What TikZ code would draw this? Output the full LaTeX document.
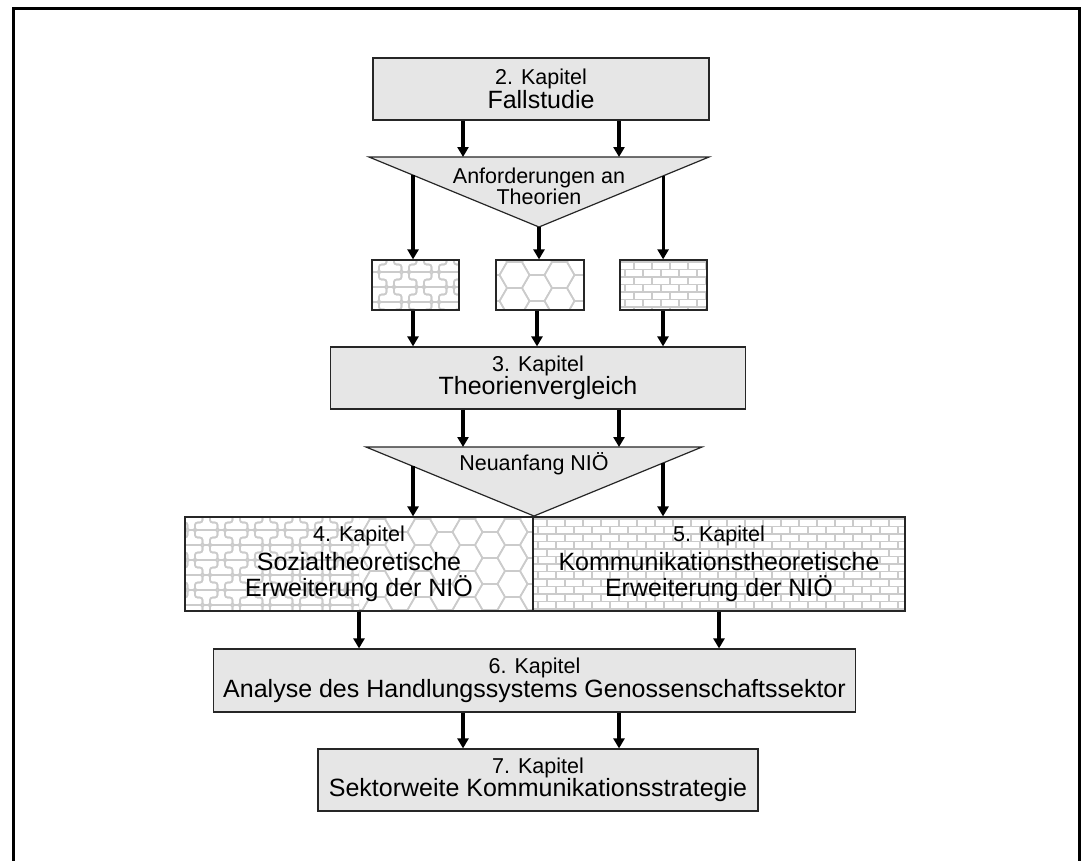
\documentclass[tikz,border=0pt]{standalone}
\usepackage{fontspec}
\setmainfont{Liberation Sans}
\usetikzlibrary{arrows.meta,calc}
\definecolor{boxfill}{HTML}{E6E6E6}
\definecolor{patgray}{HTML}{CBCBCB}
\newcommand\kfont{\fontsize{21.5}{26}\selectfont}
\newcommand\mfont{\fontsize{25}{28}\selectfont}
% flat-top hexagon pattern, origin #1,#2
\newcommand\hexpat[2]{%
  \foreach \i in {0,...,18}{\foreach \j in {-1,...,4}{%
    \pgfmathsetmacro\cx{#1+\i*22.5}%
    \pgfmathsetmacro\cy{#2+\j*25.98+mod(\i,2)*12.99}%
    \draw[pat] (\cx,\cy) +(0:15) -- +(60:15) -- +(120:15) -- +(180:15) -- +(240:15) -- +(300:15) -- cycle;}}}
% brick pattern
\newcommand\brickpat[2]{%
  \foreach \j in {0,...,13}{%
    \pgfmathsetmacro\yy{#2+\j*7.5}%
    \draw[pat] (#1,\yy) -- ++(400,0);
    \foreach \k in {0,...,22}{%
      \pgfmathsetmacro\xx{#1+\k*18+mod(\j,2)*9}%
      \draw[pat] (\xx,\yy) -- ++(0,7.5);}}}
% T-tile pattern
\newcommand\tpat[2]{%
  \foreach \b in {0,...,8}{\foreach \k in {-1,...,14}{%
    \pgfmathsetmacro\ox{#1+\k*30+mod(\b,2)*15}%
    \pgfmathsetmacro\oy{#2+\b*15}%
    \begin{scope}[shift={(\ox,\oy)}]
      \draw[pat,rounded corners=2.5pt] (0,0) -- (22.5,0) -- (22.5,7.5) -- (15,7.5) -- (15,15) -- (7.5,15) -- (7.5,7.5) -- (0,7.5) -- cycle;
      \draw[pat,rounded corners=2.5pt] (22.5,0) -- (30,0) -- (30,7.5) -- (37.5,7.5) -- (37.5,15) -- (15,15) -- (15,7.5) -- (22.5,7.5) -- cycle;
    \end{scope}}}}
\begin{document}
\begin{tikzpicture}[x=1pt,y=-1pt,
  kbox/.style={draw=black!85, line width=1.2pt, fill=boxfill, align=center, inner sep=0pt},
  pbox/.style={draw=black!85, line width=1.2pt, align=center, inner sep=0pt},
  tri/.style={draw=black!85, line width=1.2pt, fill=boxfill},
  pat/.style={draw=patgray, line width=1.6pt, line join=round},
  arr/.style={line width=3.2pt, -{Triangle[length=10pt,width=11pt]}},
  lbl/.style={align=center, inner sep=0pt}]
\useasboundingbox (0,0) rectangle (1081,860);
\fill[white] (0,0) rectangle (1081,860);
\draw[line width=3.5pt] (13.5,880) -- (13.5,8.5) -- (1079.5,8.5) -- (1079.5,880);

% x positions of connectors
\coordinate (xA) at (463,0);
\coordinate (xB) at (619,0);
\coordinate (xL) at (413,0);
\coordinate (xM) at (537,0);
\coordinate (xR) at (663,0);
\coordinate (x4) at (359,0);
\coordinate (x5) at (719,0);

% chapter 2
\node[kbox, minimum width=336pt, minimum height=62pt] (k2) at (541,89)
  {\kfont 2. Kapitel\\\mfont Fallstudie};

% triangle 1
\coordinate (t1l) at (369,157);
\coordinate (t1r) at (709,157);
\coordinate (t1a) at (539,227);
\draw[tri] (t1l) -- (t1r) -- (t1a) -- cycle;
\node[lbl] (t1txt) at (539,186) {\kfont Anforderungen an\\\kfont Theorien};
\path (t1l) -- (t1a) coordinate[pos=0.259] (t1e1);
\path (t1r) -- (t1a) coordinate[pos=0.27] (t1e3);

% small pattern boxes
\begin{scope}\clip (372,260) rectangle (459,310); \tpat{364}{257} \end{scope}
\node[pbox, minimum width=87pt, minimum height=50pt] (s1) at (415.5,285) {};
\begin{scope}\clip (496,260) rectangle (584,310); \hexpat{492}{262} \end{scope}
\node[pbox, minimum width=88pt, minimum height=50pt] (s2) at (540,285) {};
\begin{scope}\clip (620,260) rectangle (707,310); \brickpat{616}{262} \end{scope}
\node[pbox, minimum width=87pt, minimum height=50pt] (s3) at (663.5,285) {};

% chapter 3
\node[kbox, minimum width=415pt, minimum height=62pt] (k3) at (538,378)
  {\kfont 3. Kapitel\\\mfont Theorienvergleich};

% triangle 2
\coordinate (t2l) at (366,447);
\coordinate (t2r) at (702,447);
\coordinate (t2a) at (534,516);
\draw[tri] (t2l) -- (t2r) -- (t2a) -- cycle;
\node[lbl] (t2txt) at (534,464) {\kfont Neuanfang NIÖ};
\path (t2l) -- (t2a) coordinate[pos=0.28] (t2e1);
\path (t2r) -- (t2a) coordinate[pos=0.232] (t2e3);

% chapters 4 and 5
\begin{scope}\clip (185,517) rectangle (359,611); \tpat{180}{515} \end{scope}
\begin{scope}\clip (359,517) rectangle (533,611); \hexpat{355}{519} \end{scope}
\begin{scope}\clip (533,517) rectangle (905,611); \brickpat{529}{519} \end{scope}
\node[pbox, minimum width=348pt, minimum height=94pt] (k4) at (359,564)
  {\kfont 4. Kapitel\\[5pt]\mfont Sozialtheoretische\\[4pt]\mfont Erweiterung der NIÖ};
\node[pbox, minimum width=372pt, minimum height=94pt] (k5) at (719,564)
  {\kfont 5. Kapitel\\[5pt]\mfont Kommunikationstheoretische\\[4pt]\mfont Erweiterung der NIÖ};

% chapter 6
\node[kbox, minimum width=642pt, minimum height=63pt] (k6) at (534.5,680.5)
  {\kfont 6. Kapitel\\\mfont Analyse des Handlungssystems Genossenschaftssektor};

% chapter 7
\node[kbox, minimum width=440pt, minimum height=62pt] (k7) at (538,780)
  {\kfont 7. Kapitel\\\mfont Sektorweite Kommunikationsstrategie};

% connectors
\draw[arr] (k2.south -| xA) -- (t1l -| xA);
\draw[arr] (k2.south -| xB) -- (t1l -| xB);
\draw[arr] (t1e1) -- (s1.north -| t1e1);
\draw[arr] (t1a) -- (s2.north -| t1a);
\draw[arr] (t1e3) -- (s3.north -| t1e3);
\draw[arr] (s1.south -| xL) -- (k3.north -| xL);
\draw[arr] (s2.south -| xM) -- (k3.north -| xM);
\draw[arr] (s3.south -| xR) -- (k3.north -| xR);
\draw[arr] (k3.south -| xA) -- (t2l -| xA);
\draw[arr] (k3.south -| xB) -- (t2l -| xB);
\draw[arr] (t2e1) -- (k4.north -| t2e1);
\draw[arr] (t2e3) -- (k5.north -| t2e3);
\draw[arr] (k4.south -| x4) -- (k6.north -| x4);
\draw[arr] (k5.south -| x5) -- (k6.north -| x5);
\draw[arr] (k6.south -| xA) -- (k7.north -| xA);
\draw[arr] (k6.south -| xB) -- (k7.north -| xB);
\end{tikzpicture}
\end{document}
